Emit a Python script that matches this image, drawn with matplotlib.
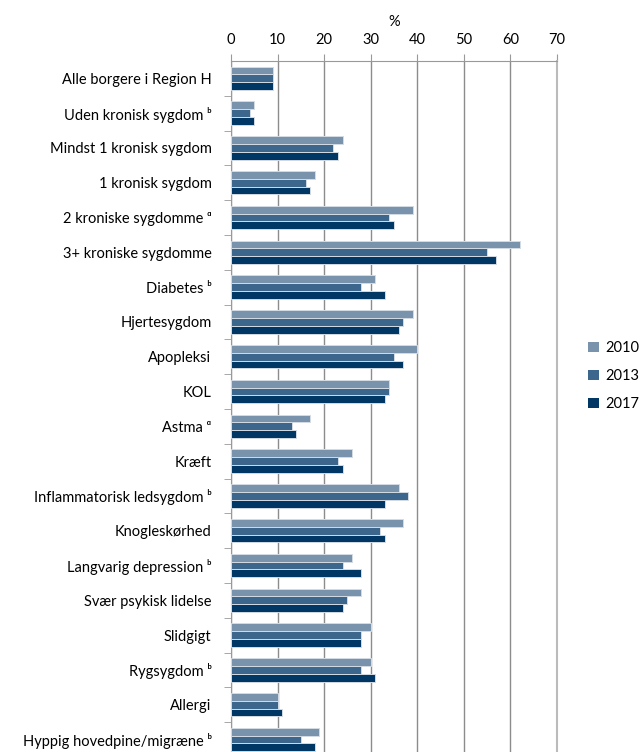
import numpy as np
import matplotlib
matplotlib.use("Agg")
import matplotlib.pyplot as plt
from matplotlib.patches import Patch

plt.rcParams['font.family'] = ['Lato', 'DejaVu Sans']

categories = [
    "Alle borgere i Region H",
    "Uden kronisk sygdom ᵇ",
    "Mindst 1 kronisk sygdom",
    "1 kronisk sygdom",
    "2 kroniske sygdomme ᵅ",
    "3+ kroniske sygdomme",
    "Diabetes ᵇ",
    "Hjertesygdom",
    "Apopleksi",
    "KOL",
    "Astma ᵅ",
    "Kræft",
    "Inflammatorisk ledsygdom ᵇ",
    "Knogleskørhed",
    "Langvarig depression ᵇ",
    "Svær psykisk lidelse",
    "Slidgigt",
    "Rygsygdom ᵇ",
    "Allergi",
    "Hyppig hovedpine/migræne ᵇ",
]

v2010 = [9, 5, 24, 18, 39, 62, 31, 39, 40, 34, 17, 26, 36, 37, 26, 28, 30, 30, 10, 19]
v2013 = [9, 4, 22, 16, 34, 55, 28, 37, 35, 34, 13, 23, 38, 32, 24, 25, 28, 28, 10, 15]
v2017 = [9, 5, 23, 17, 35, 57, 33, 36, 37, 33, 14, 24, 33, 33, 28, 24, 28, 31, 11, 18]

years = ["2010", "2013", "2017"]
colors = ["#7a93ad", "#3d668d", "#003764"]

fig = plt.figure(figsize=(6.42, 7.52), dpi=100)
ax = fig.add_axes([0.3598, -0.0066, 0.5078, 0.9255])

y = np.arange(len(categories))
h = 0.224
for k, (vals, col) in enumerate(zip([v2010, v2013, v2017], colors)):
    ax.barh(y + (k - 1) * h, vals, height=h, color=col,
            edgecolor="#d3dbe4", linewidth=0.7, zorder=3)

ax.set_xlim(0, 70)
ax.set_ylim(len(categories) - 0.5, -0.5)

ax.set_xticks(range(0, 71, 10))
ax.xaxis.tick_top()
ax.xaxis.set_label_position("top")
ax.set_xlabel("%", fontsize=10.5, labelpad=5)
ax.tick_params(axis="x", direction="out", length=5, color="#999999",
               labelsize=10.5, pad=5)
ax.grid(axis="x", color="#8c8c8c", linewidth=1, zorder=0)

ax.set_yticks(y)
ax.set_yticklabels(categories)
ax.set_yticks(np.arange(0.5, len(categories), 1), minor=True)
ax.tick_params(axis="y", which="major", length=0, labelsize=10.5, pad=14)
ax.tick_params(axis="y", which="minor", length=5, color="#999999")

ax.spines["bottom"].set_visible(False)
ax.spines["left"].set_color("#999999")
ax.spines["top"].set_color("#999999")
ax.spines["right"].set_color("#bbbbbb")
ax.spines["right"].set_linewidth(1.5)

handles = [Patch(facecolor=c, edgecolor="none", label=yr) for c, yr in zip(colors, years)]
fig.legend(handles=handles, loc="center left", bbox_to_anchor=(0.905, 0.500),
           frameon=False, fontsize=10.5, handlelength=0.7, handleheight=0.7,
           handletextpad=0.45, labelspacing=0.95, borderpad=0)

fig.savefig("out.png", dpi=100)
